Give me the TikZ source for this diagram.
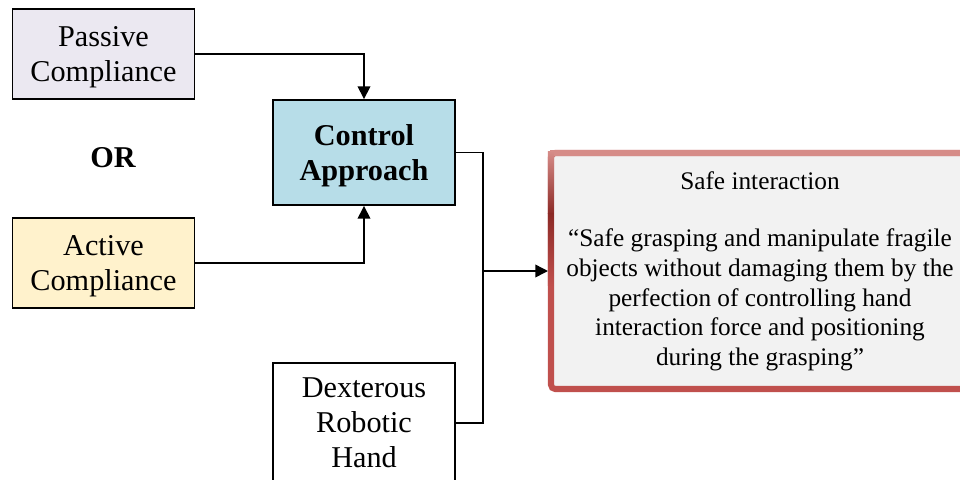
\documentclass[tikz,border=0pt]{standalone}
\usepackage{fontspec}
\setmainfont{Liberation Serif}
\usepackage{tikz}
\usetikzlibrary{arrows.meta, positioning, calc}
\definecolor{mydark}{RGB}{0,0,0}
\definecolor{passfill}{RGB}{235,232,241}
\definecolor{actfill}{RGB}{255,242,204}
\definecolor{ctrlfill}{RGB}{183,221,232}
\definecolor{safefill}{RGB}{242,242,242}
\definecolor{safered}{RGB}{192,80,77}
\definecolor{saferedl}{RGB}{214,140,136}
\definecolor{safereddk}{RGB}{140,42,38}
\tikzset{
  cblock/.style={rectangle, draw=mydark, align=center, inner sep=0pt,
    minimum width=4.55cm, minimum height=2.25cm, text depth=0pt,
    font=\fontsize{21.5}{25}\selectfont, line width=1.35pt},
  safeblock/.style={rectangle, draw=safered, fill=safefill, align=center,
    minimum width=10.45cm, minimum height=5.9cm, inner sep=0pt,
    font=\fontsize{18}{21}\selectfont, rounded corners=3pt, line width=4.3pt},
  arrow/.style={-{Triangle[length=9pt, width=9pt]}, line width=1.1pt, color=mydark},
  line/.style={line width=1.1pt, color=mydark}
}
\begin{document}
\begin{tikzpicture}
  \useasboundingbox (0,0) rectangle (24,-11.975);

  % Nodes
  \node[cblock, fill=passfill] (passive) at (2.5875,-1.35) {Passive\\Compliance};
  \node[cblock, fill=actfill, below=2.925cm of passive] (active) {Active\\Compliance};
  \node[font=\fontsize{21.5}{25}\selectfont\bfseries] (or) at (2.825,-3.95) {OR};

  \node[cblock, fill=ctrlfill, minimum height=2.625cm,
    font=\fontsize{21.5}{25}\selectfont\bfseries] (control) at (9.1,-3.8125) {Control\\Approach};
  \node[cblock, minimum height=3.0cm, below=3.9cm of control] (hand) {Dexterous\\Robotic\\Hand};

  \node[safeblock] (safe) at (19.0,-6.775) {Safe interaction\\[20pt]
    “Safe grasping and manipulate fragile\\
    objects without damaging them by the\\
    perfection of controlling hand\\
    interaction force and positioning\\
    during the grasping”};

  % bevel of the red frame
  \fill[saferedl] ($(safe.north west)+(0.04,0)$) rectangle ($(safe.north east)+(0,-0.15)$);
  \shade[top color=saferedl, bottom color=safereddk]
    ($(safe.north west)+(0,-0.04)$) rectangle ($(safe.north west)+(0.15,-1.6)$);
  \shade[top color=safereddk, bottom color=safered]
    ($(safe.north west)+(0,-1.6)$) rectangle ($(safe.north west)+(0.15,-3.4)$);

  \coordinate (join) at (12.075,-6.775);

  % Arrows
  \draw[arrow] (passive.east) -| (control.north);
  \draw[arrow] (active.east) -| (control.south);
  \draw[line] (control.east) -| (join);
  \draw[line] (hand.east) -| (join);
  \draw[arrow] (join) -- (safe.west);

\end{tikzpicture}
\end{document}
